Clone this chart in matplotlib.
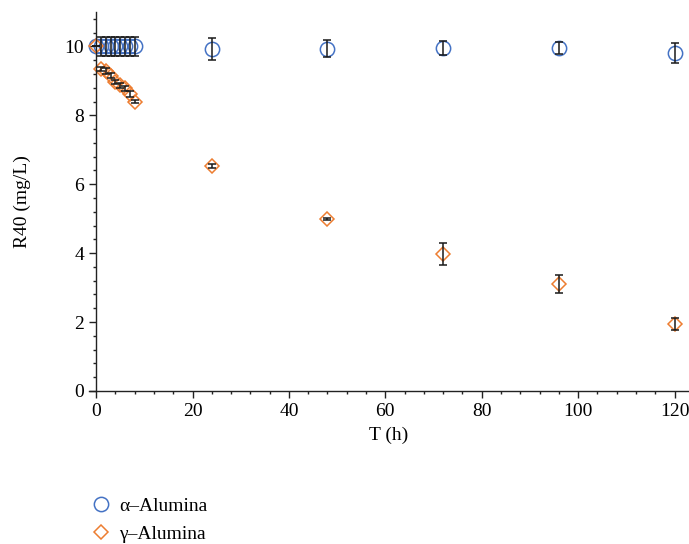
import matplotlib
matplotlib.use("Agg")
import matplotlib.pyplot as plt
from matplotlib.ticker import MultipleLocator

# Sampling times (h)
time_h = [0, 1, 2, 3, 4, 5, 6, 7, 8, 24, 48, 72, 96, 120]

# R40 concentration (mg/L) and standard deviations
alpha_r40 = [10.0, 10.0, 10.0, 10.0, 10.0, 10.0, 10.0, 10.0, 10.0, 9.93, 9.93, 9.95, 9.96, 9.80]
alpha_err = [0.0, 0.28, 0.28, 0.28, 0.28, 0.28, 0.28, 0.28, 0.28, 0.31, 0.25, 0.20, 0.17, 0.29]

gamma_r40 = [10.0, 9.35, 9.28, 9.15, 8.97, 8.87, 8.78, 8.62, 8.40, 6.52, 4.99, 3.97, 3.10, 1.94]
gamma_err = [0.0, 0.06, 0.08, 0.08, 0.06, 0.08, 0.06, 0.10, 0.04, 0.06, 0.02, 0.32, 0.27, 0.18]

series_labels = ["α–Alumina", "γ–Alumina"]
blue = "#4472C4"
orange = "#ED7D31"

plt.rcParams["font.family"] = ["Liberation Serif", "DejaVu Serif"]
plt.rcParams["font.size"] = 14

fig = plt.figure(figsize=(6.89, 5.44), dpi=100)
ax = fig.add_axes([0.129, 0.2813, 0.871, 0.6967])

ax.plot(time_h, alpha_r40, linestyle="none", marker="o", markersize=10.3,
        markerfacecolor="none", markeredgecolor=blue, markeredgewidth=1.1,
        label=series_labels[0], clip_on=False, zorder=2)
ax.plot(time_h, gamma_r40, linestyle="none", marker="D", markersize=7.4,
        markerfacecolor="none", markeredgecolor=orange, markeredgewidth=1.1,
        label=series_labels[1], clip_on=False, zorder=2)

ax.errorbar(time_h, alpha_r40, yerr=alpha_err, fmt="none", ecolor="#1a1a1a",
            elinewidth=1.1, capsize=3, capthick=1.1, zorder=3, clip_on=False)
ax.errorbar(time_h, gamma_r40, yerr=gamma_err, fmt="none", ecolor="#1a1a1a",
            elinewidth=1.1, capsize=3, capthick=1.1, zorder=3, clip_on=False)

ax.set_xlim(-1.5, 123)
ax.set_ylim(0, 11)
ax.spines["left"].set_position(("data", 0))
ax.spines["top"].set_visible(False)
ax.spines["right"].set_visible(False)
for s in ("left", "bottom"):
    ax.spines[s].set_linewidth(1.0)
    ax.spines[s].set_color("#222222")

ax.set_xticks([0, 20, 40, 60, 80, 100, 120])
ax.set_yticks([0, 2, 4, 6, 8, 10])
ax.xaxis.set_minor_locator(MultipleLocator(4))
ax.yaxis.set_minor_locator(MultipleLocator(0.4))
ax.tick_params(which="major", direction="out", length=5, width=1.0, color="#222222", labelsize=14)
ax.tick_params(which="minor", direction="out", length=2.5, width=1.0, color="#222222")

ax.set_xlabel("T (h)", fontsize=14, labelpad=5)
ax.set_ylabel("R40 (mg/L)", fontsize=14, labelpad=24)

fig.legend(loc="upper left", bbox_to_anchor=(0.118, 0.1), frameon=False,
           fontsize=14, handletextpad=0.35, labelspacing=0.55, borderaxespad=0,
           handlelength=1.2)

fig.savefig("out.png", dpi=100)
